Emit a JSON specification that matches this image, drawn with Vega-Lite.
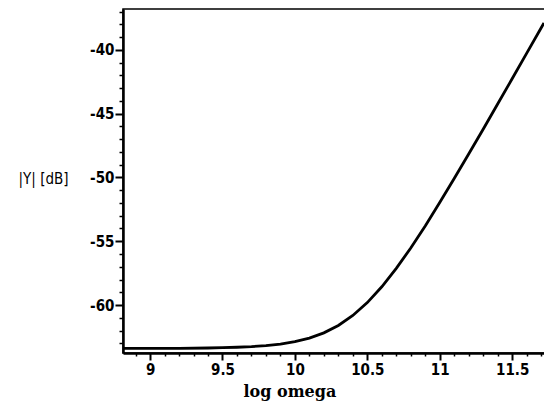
{
  "$schema": "https://vega.github.io/schema/vega-lite/v6.json",
  "autosize": {"type": "none"},
  "width": 422,
  "height": 344,
  "padding": {"left": 123, "top": 9, "right": 0, "bottom": 61},
  "background": "white",
  "config": {
    "view": {"stroke": "black", "strokeWidth": 1.5},
    "axis": {"grid": false, "domainColor": "black", "domainWidth": 2.5, "tickColor": "black", "labelColor": "black", "titleColor": "black"}
  },
  "data": {"values": [
    {"logomega": 8.813, "Y": -63.4},
    {"logomega": 9.0, "Y": -63.4},
    {"logomega": 9.2, "Y": -63.39},
    {"logomega": 9.4, "Y": -63.37},
    {"logomega": 9.5, "Y": -63.34},
    {"logomega": 9.6, "Y": -63.31},
    {"logomega": 9.7, "Y": -63.26},
    {"logomega": 9.8, "Y": -63.18},
    {"logomega": 9.9, "Y": -63.06},
    {"logomega": 10.0, "Y": -62.87},
    {"logomega": 10.1, "Y": -62.59},
    {"logomega": 10.2, "Y": -62.18},
    {"logomega": 10.3, "Y": -61.6},
    {"logomega": 10.4, "Y": -60.82},
    {"logomega": 10.5, "Y": -59.81},
    {"logomega": 10.6, "Y": -58.57},
    {"logomega": 10.7, "Y": -57.13},
    {"logomega": 10.8, "Y": -55.53},
    {"logomega": 10.9, "Y": -53.8},
    {"logomega": 11.0, "Y": -51.97},
    {"logomega": 11.1, "Y": -50.09},
    {"logomega": 11.2, "Y": -48.17},
    {"logomega": 11.3, "Y": -46.22},
    {"logomega": 11.4, "Y": -44.25},
    {"logomega": 11.5, "Y": -42.27},
    {"logomega": 11.6, "Y": -40.28},
    {"logomega": 11.7, "Y": -38.29},
    {"logomega": 11.72, "Y": -37.89}
  ]},
  "resolve": {"axis": {"x": "independent", "y": "independent"}},
  "layer": [
    {
      "mark": {"type": "line", "color": "black", "strokeWidth": 2.8, "clip": true},
      "encoding": {
        "x": {"field": "logomega", "type": "quantitative",
              "scale": {"domain": [8.813, 11.727], "nice": false, "zero": false},
              "axis": {"orient": "bottom", "title": "log omega", "values": [9, 9.5, 10, 10.5, 11, 11.5],
                       "format": "~g", "tickSize": 7, "tickWidth": 2, "labelPadding": 2,
                       "labelFont": "DejaVu Sans Condensed", "labelFontSize": 15, "labelFontWeight": "bold",
                       "titleFont": "DejaVu Serif", "titleFontSize": 16, "titleFontWeight": "bold",
                       "titleAnchor": "start", "titleX": 120, "titleY": 30, "titleAlign": "left", "titleBaseline": "top"}},
        "y": {"field": "Y", "type": "quantitative",
              "scale": {"domain": [-63.76, -36.8], "nice": false, "zero": false},
              "axis": {"orient": "left", "title": "|Y| [dB]", "values": [-60, -55, -50, -45, -40],
                       "labelExpr": "replace(datum.label, '\u2212', '-')",
                       "tickSize": 8, "tickWidth": 2, "labelPadding": 1,
                       "labelFont": "DejaVu Sans Condensed", "labelFontSize": 15, "labelFontWeight": "bold",
                       "titleFont": "DejaVu Sans Condensed", "titleFontSize": 15, "titleFontWeight": "normal",
                       "titleAngle": 0, "titleX": -80, "titleY": 169, "titleAlign": "center", "titleBaseline": "middle"}}
      }
    },
    {
      "mark": {"type": "line", "opacity": 0},
      "encoding": {
        "x": {"field": "logomega", "type": "quantitative",
              "axis": {"orient": "bottom", "title": null, "labels": false, "domain": false, "tickSize": 3, "tickWidth": 1.5,
                       "values": [8.9, 9.1, 9.2, 9.3, 9.4, 9.6, 9.7, 9.8, 9.9, 10.1, 10.2, 10.3, 10.4, 10.6, 10.7, 10.8, 10.9, 11.1, 11.2, 11.3, 11.4, 11.6, 11.7]}},
        "y": {"field": "Y", "type": "quantitative",
              "axis": {"orient": "left", "title": null, "labels": false, "domain": false, "tickSize": 4, "tickWidth": 1.5,
                       "values": [-63, -62, -61, -59, -58, -57, -56, -54, -53, -52, -51, -49, -48, -47, -46, -44, -43, -42, -41, -39, -38, -37]}}
      }
    }
  ]
}
